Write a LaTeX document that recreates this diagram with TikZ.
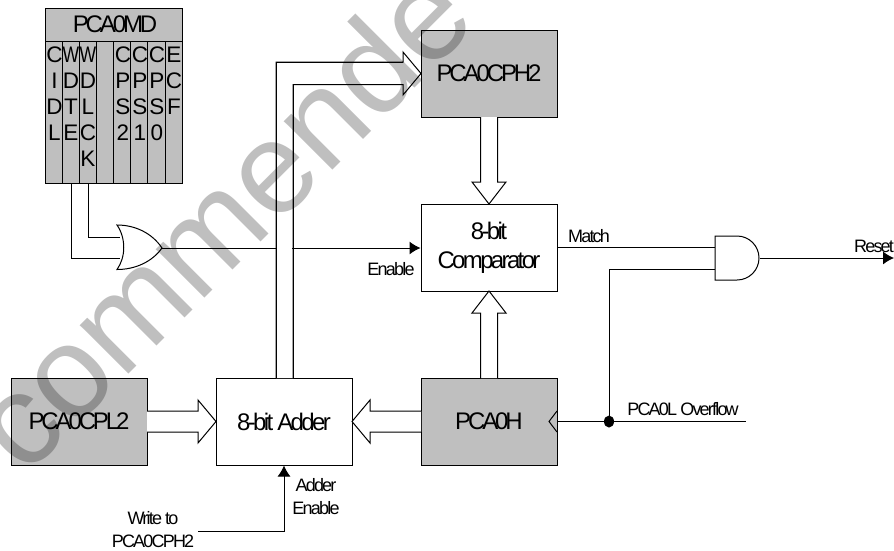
\documentclass[tikz,border=0pt]{standalone}
\usepackage{fontspec}
\setmainfont{Liberation Sans}
\usetikzlibrary{arrows.meta}
\definecolor{gray75}{gray}{0.75}
\newcommand{\narrowW}{\scalebox{0.78}[1]{W}}
\tikzset{
  x=1pt,y=-1pt,
  wire/.style={draw=black,line width=1pt},
  sig/.style={wire,-{Latex[length=11pt,width=13pt]}},
  blk/.style={draw=black,line width=1pt,minimum width=136pt,minimum height=87pt,inner sep=0pt},
  reg/.style={blk,fill=gray75,font=\fontsize{24}{29}\selectfont\addfontfeature{LetterSpace=-13}},
  plain/.style={blk,fill=white,align=center,font=\fontsize{24}{29}\selectfont\addfontfeature{LetterSpace=-11}},
  lab/.style={inner sep=0pt,font=\fontsize{18}{23}\selectfont\addfontfeature{LetterSpace=-10},align=center},
  bit/.style={inner sep=0pt,anchor=north,font=\fontsize{22.5}{26}\selectfont,align=center},
  bus/.style={draw=black,line width=1pt,fill=white,line join=miter},
}
\begin{document}
\begin{tikzpicture}
\useasboundingbox (0,0) rectangle (894,550);
% blocks
\node[reg]   (cph) at (489,73.5)  {PCA0CPH2};
\node[plain] (cmp) at (489,247.5) {8-bit\\Comparator};
\node[reg]   (cpl) at (79,421.5)  {PCA0CPL2};
\node[plain] (add) at (284,421.5) {8-bit Adder};
\node[reg]   (pch) at (489,421.5) {PCA0H};
% register
\node[draw=black,line width=1pt,fill=gray75,minimum width=137pt,minimum height=175pt,inner sep=0pt] (md) at (113.5,95.5) {};
\node[inner sep=0pt,font=\fontsize{24}{29}\selectfont\addfontfeature{LetterSpace=-13}] (mdt) at (115,24) {PCA0MD};
\coordinate (t1) at (45,41); \coordinate (t2) at (182,41);
\draw[wire] (t1) -- (t2);
\foreach \x in {62,79,96,113,130.5,147.5,165}{\draw[wire] (\x,41) -- (\x,183);}
\node[bit] (b1) at (54.5,47) {C\\I\\D\\L};
\node[bit] (b2) at (71,47) {\narrowW\\D\\T\\E};
\node[bit] (b3) at (88,47) {\narrowW\\D\\L\\C\\K};
\node[bit] (b5) at (123,47) {C\\P\\S\\2};
\node[bit] (b6) at (140,47) {C\\P\\S\\1};
\node[bit] (b7) at (157,47) {C\\P\\S\\0};
\node[bit] (b8) at (174,47) {E\\C\\F};
% OR gate
\coordinate (orA) at (120,237);
\coordinate (orB) at (120,258);
\coordinate (orO) at (162,248);
\draw[wire] (117,225) .. controls (135,225) and (152,233) .. (orO) .. controls (152,262) and (135,269.5) .. (117,269.5) .. controls (126,257) and (126,238) .. (117,225) -- cycle;
\coordinate (w1) at (71,183); \coordinate (w2) at (88,183);
\draw[wire] (w2) |- (orA);
\draw[wire] (w1) |- (orB);
% buses
\draw[bus] (276,378) |- (403,62) -- (403,52) -- (421,73.5) -- (403,95) -- (403,84.5) -| (293,378);
\fill[white] (277,378) rectangle (292,85);
\fill[white] (277,63) rectangle (403,84);
\draw[wire] (276,378) -- (276,62) -- (403,62);
\draw[wire] (293,378) -- (293,84.5) -- (403,84.5);
% enable
\draw[sig] (orO) -- (cmp.west |- orO);
\fill[white] (277,243) rectangle (292,253);
\draw[bus] (480.5,117) -- (480.5,182) -- (472,182) -- (489,204) -- (506,182) -- (497.5,182) -- (497.5,117);
\draw[bus] (480.5,378) -- (480.5,313) -- (472,313) -- (489,291) -- (506,313) -- (497.5,313) -- (497.5,378);
\draw[bus] (147,411) -- (198,411) -- (198,400) -- (216,421.5) -- (198,443) -- (198,432) -- (147,432);
\draw[bus] (421,411) -- (370,411) -- (370,400) -- (352,421.5) -- (370,443) -- (370,432) -- (421,432);
% and gate
\draw[wire] (715,236) -- (737,236) arc[start angle=-90,end angle=90,radius=22] -- (715,280) -- cycle;
\coordinate (andO) at (760,258);
\coordinate (rst) at (894,258);
\draw[sig] (andO) -- (rst);
\draw[wire] (cmp.east |- 0,247) -- (715,247);
\coordinate (dot) at (609,421.5);
\coordinate (ovf) at (746,421.5);
\draw[wire] (557,421.5) -- (ovf);
\draw[wire] (dot) |- (715,269);
\fill (dot) ellipse[x radius=5,y radius=6];
\draw[wire] (557,411) -- (549,421.5) -- (557,432);
% adder enable
\coordinate (wr) at (198,531);
\draw[sig] (wr) -| (add.south);
% labels
\node[lab] (l1) at (391,269) {Enable};
\node[lab] (l2) at (589,236) {Match};
\node[lab] (l3) at (874,246) {Reset};
\node[lab] (l4) at (683,409) {PCA0L Overflow};
\node[lab] (l5) at (316,497) {Adder\\Enable};
\node[lab] (l6) at (153,530) {Write to\\PCA0CPH2};
% watermark
\node[inner sep=0pt,text=black,opacity=0.25,rotate=45,anchor=base west,font=\fontsize{130}{130}\selectfont] (wm) at (25,478) {commende};
\end{tikzpicture}
\end{document}
